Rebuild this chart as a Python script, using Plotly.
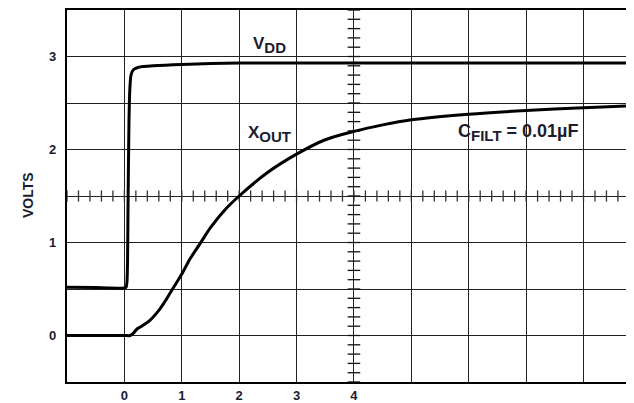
import numpy as np
import plotly.graph_objects as go

# ---- data ----
vdd_x = [-1.0, -0.5, 0.0, 0.03, 0.045, 0.055, 0.065, 0.08, 0.095, 0.115, 0.16, 0.25, 0.5, 1.0, 2.0, 3.0, 4.0, 6.0, 8.9]
vdd_y = [0.52, 0.515, 0.51, 0.52, 0.58, 0.8, 1.5, 2.3, 2.65, 2.8, 2.86, 2.885, 2.9, 2.915, 2.93, 2.93, 2.93, 2.93, 2.93]

xout_x = [-1.0, 0.0, 0.1, 0.15, 0.22, 0.3, 0.44, 0.6, 0.7, 0.8, 0.9, 1.0, 1.14, 1.31, 1.5, 1.75,
          2.0, 2.5, 3.0, 3.5, 4.0, 4.5, 5.0, 6.0, 7.0, 8.0, 8.9]
xout_y = [0.0, 0.0, 0.0, 0.02, 0.07, 0.1, 0.16, 0.27, 0.36, 0.46, 0.56, 0.66, 0.82, 0.98, 1.16, 1.35,
          1.5, 1.755, 1.95, 2.105, 2.195, 2.265, 2.32, 2.38, 2.42, 2.45, 2.47]

x_tickvals = [0, 1, 2, 3, 4]
x_ticktext = ["0", "1", "2", "3", "4"]
x_gridvals = [-1, 5, 6, 7, 8]
y_tickvals = [0, 1, 2, 3]
y_ticktext = ["0", "1", "2", "3"]
y_gridvals = [-0.5, 0.5, 1.5, 2.5, 3.5]

x_range = [-1.0, 8.88]
y_range = [-0.5, 3.5]
center_x = 4.0
center_y = 1.5

FONT = "Liberation Sans, Arial, sans-serif"
TXT = "#1c1c30"
GRID = "#222"

fig = go.Figure()

# minor ticks on the centre cross
hx = np.arange(-1.0, 8.9, 0.2)
vy = np.arange(-0.5, 3.51, 0.1)
fig.add_trace(go.Scatter(x=hx, y=[center_y] * len(hx), mode="markers",
                         marker=dict(symbol="line-ns", size=8, line=dict(width=1.3, color="#333")),
                         hoverinfo="skip", showlegend=False))
fig.add_trace(go.Scatter(x=[center_x] * len(vy), y=vy, mode="markers",
                         marker=dict(symbol="line-ew", size=9, line=dict(width=1.3, color="#111")),
                         hoverinfo="skip", showlegend=False))

fig.add_trace(go.Scatter(x=vdd_x, y=vdd_y, mode="lines",
                         line=dict(color="black", width=3, shape="spline", smoothing=0.5),
                         showlegend=False, name="VDD"))
fig.add_trace(go.Scatter(x=xout_x, y=xout_y, mode="lines",
                         line=dict(color="black", width=3, shape="spline", smoothing=0.8),
                         showlegend=False, name="XOUT"))

SUB = "<sub><span style='font-size:15px'>{}</span></sub>"
fig.add_annotation(x=2.52, y=3.12, text="<b>V" + SUB.format("DD") + "</b>", showarrow=False,
                   font=dict(family=FONT, size=17, color=TXT))
fig.add_annotation(x=2.52, y=2.17, text="<b>X" + SUB.format("OUT") + "</b>", showarrow=False,
                   font=dict(family=FONT, size=17, color=TXT))
fig.add_annotation(x=6.85, y=2.18, text="<b>C" + SUB.format("FILT") + " = 0.01µF</b>", showarrow=False,
                   font=dict(family=FONT, size=18, color=TXT))
fig.add_annotation(x=0, xref="paper", xshift=-49, y=1.51, yref="y", text="<b>VOLTS</b>",
                   textangle=-90, showarrow=False, font=dict(family=FONT, size=14, color=TXT))

# the page adds an 8px body margin, so the figure is 8px smaller and offset
fig.update_layout(
    width=626, height=395,
    margin=dict(l=59, r=0, t=1, b=18),
    paper_bgcolor="white", plot_bgcolor="white",
    font=dict(family=FONT, size=13, color=TXT),
)
fig.update_xaxes(range=x_range, tickvals=x_tickvals, ticktext=x_ticktext,
                 showgrid=True, gridcolor=GRID, gridwidth=1.3, zeroline=False,
                 minor=dict(tickvals=x_gridvals, showgrid=True, gridcolor=GRID, gridwidth=1.3, ticks=""),
                 showline=True, linecolor="black", linewidth=2.2, mirror=True,
                 ticks="", ticklabelstandoff=0,
                 tickfont=dict(family=FONT, size=13, color=TXT, weight="bold"))
fig.update_yaxes(range=y_range, tickvals=y_tickvals, ticktext=y_ticktext,
                 showgrid=True, gridcolor=GRID, gridwidth=1.3, zeroline=False,
                 minor=dict(tickvals=y_gridvals, showgrid=True, gridcolor=GRID, gridwidth=1.3, ticks=""),
                 showline=True, linecolor="black", linewidth=2.2, mirror=False,
                 ticks="", ticklabelstandoff=6,
                 tickfont=dict(family=FONT, size=13, color=TXT, weight="bold"))

fig.write_html("out.html")
